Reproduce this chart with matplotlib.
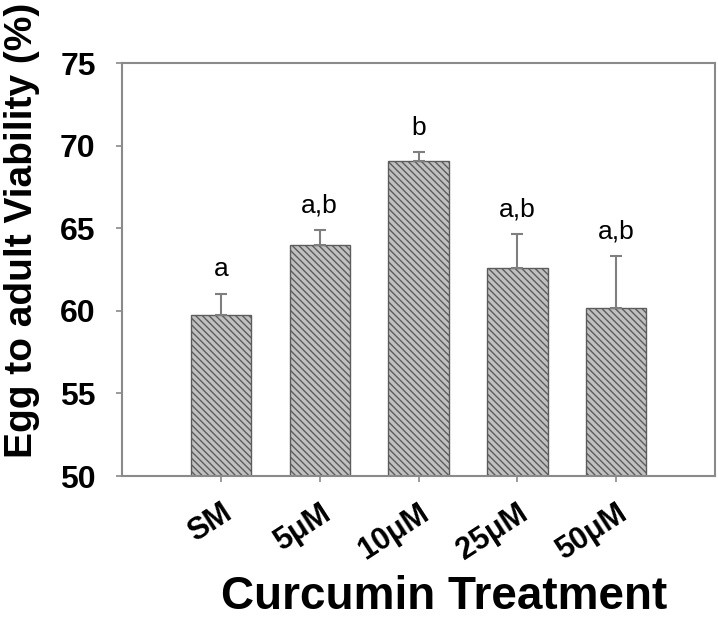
import numpy as np
import matplotlib.pyplot as plt

# data
treatments = ['SM', '5μM', '10μM', '25μM', '50μM']
viability = [59.75, 64.0, 69.1, 62.6, 60.2]
sem = [1.3, 0.9, 0.5, 2.05, 3.1]
letters = ['a', 'a,b', 'b', 'a,b', 'a,b']

plt.rcParams['font.family'] = ['Liberation Sans', 'DejaVu Sans']
plt.rcParams['hatch.linewidth'] = 1.0

fig = plt.figure(figsize=(7.18, 6.19), dpi=100)
ax = fig.add_axes([0.170, 0.231, 0.826, 0.667])

x = np.arange(1, len(treatments) + 1)
ax.bar(x, viability, width=0.61, bottom=0, color='#c0c0c0',
       edgecolor='#5c5c5c', hatch='\\' * 5, linewidth=1.0, zorder=2)
ax.errorbar(x, viability, yerr=[np.zeros(len(sem)), sem], fmt='none',
            ecolor='#7f7f7f', elinewidth=1.5, capsize=4.5, capthick=1.5, zorder=3)

# significance letters above the error bars
for xi, v, e, t in zip(x, viability, sem, letters):
    ax.text(xi, v + e + 0.75, t, ha='center', va='bottom', fontsize=19)

ax.set_xlim(0, 6)
ax.set_ylim(50, 75)
ax.set_yticks(np.arange(50, 76, 5))
ax.set_xticks(x)
ax.set_xticklabels(treatments, rotation=33, ha='right', rotation_mode='anchor',
                   fontsize=22, fontweight='bold')
for lab in ax.get_yticklabels():
    lab.set_fontsize(23)
    lab.set_fontweight('bold')

for s in ax.spines.values():
    s.set_color('#8a8a8a')
    s.set_linewidth(1.5)
ax.tick_params(axis='both', direction='out', length=4, width=1.2, color='#8a8a8a')
ax.tick_params(axis='y', pad=15)
ax.tick_params(axis='x', pad=12)

fig.text(0.030, 0.628, 'Egg to adult Viability (%)', rotation=90, ha='center',
         va='center', fontsize=28, fontweight='bold')
fig.text(0.618, 0.016, 'Curcumin Treatment', ha='center', va='baseline',
         fontsize=33, fontweight='bold')

fig.savefig('out.png', dpi=100)
